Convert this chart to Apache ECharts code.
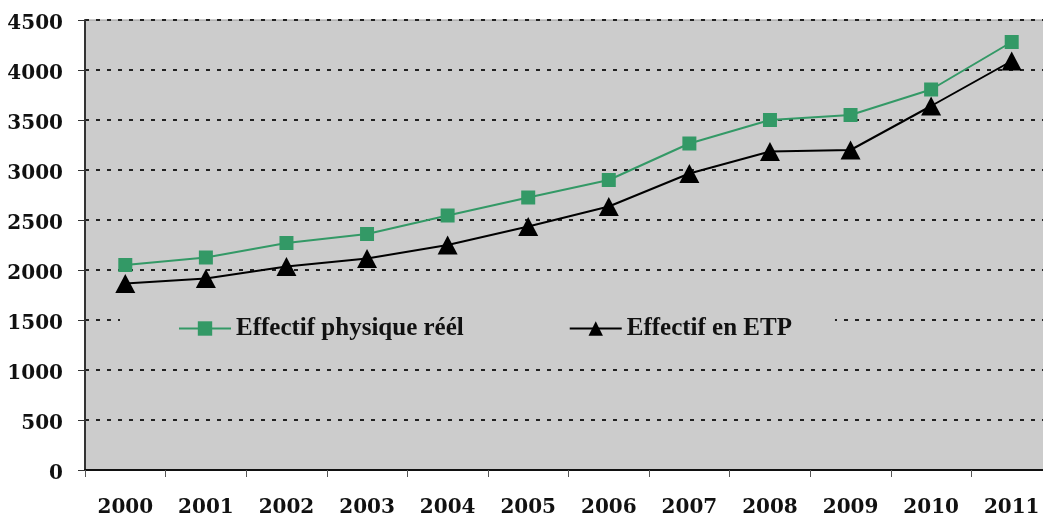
<!DOCTYPE html>
<html>
<head>
<meta charset="utf-8">
<script src="https://cdn.jsdelivr.net/npm/echarts@6/dist/echarts.min.js"></script>
<style>
  html, body { margin: 0; padding: 0; background: #ffffff; overflow: hidden; }
  #chart { width: 1043px; height: 516px; }
</style>
</head>
<body>
<div id="chart"></div>
<script>
// Années
const years = ['2000', '2001', '2002', '2003', '2004', '2005', '2006', '2007', '2008', '2009', '2010', '2011'];
// Effectif physique réel
const effectifPhysique = [2050, 2125, 2270, 2360, 2545, 2725, 2900, 3265, 3500, 3550, 3805, 4280];
// Effectif en équivalent temps plein
const effectifETP = [1865, 1915, 2035, 2115, 2250, 2435, 2635, 2965, 3185, 3200, 3640, 4090];
// Graduations de l'axe vertical
const yTicks = { min: 0, max: 4500, interval: 500 };

const seriesNames = ['Effectif physique réél', 'Effectif en ETP'];

const chart = echarts.init(document.getElementById('chart'), null, { renderer: 'canvas' });

const labelFont = { fontFamily: 'DejaVu Serif', fontWeight: 'bold', fontSize: 20, color: '#111' };

chart.setOption({
  animation: false,
  backgroundColor: '#ffffff',
  grid: {
    left: 85, top: 20, width: 967, height: 450,
    outerBoundsMode: 'none',
    containLabel: false,
    show: true, backgroundColor: '#cccccc', borderColor: '#9a9a9a', borderWidth: 1
  },
  legend: {
    left: 120, top: 311,
    backgroundColor: '#cccccc',
    padding: [5, 43, 5, 58],
    itemGap: 105,
    itemWidth: 52, itemHeight: 18,
    textStyle: { fontFamily: 'Liberation Serif', fontWeight: 'bold', fontSize: 25, color: '#111' },
    data: seriesNames
  },
  xAxis: {
    type: 'category',
    data: years,
    boundaryGap: true,
    axisLine: { lineStyle: { color: '#111', width: 2 } },
    axisTick: { show: true, length: 7, lineStyle: { color: '#555', width: 1 } },
    axisLabel: Object.assign({ margin: 28 }, labelFont),
    splitLine: { show: false }
  },
  yAxis: {
    type: 'value',
    min: yTicks.min, max: yTicks.max, interval: yTicks.interval,
    axisLine: { show: true, lineStyle: { color: '#333', width: 2 } },
    axisTick: { show: true, length: 7, lineStyle: { color: '#333', width: 1 } },
    axisLabel: Object.assign({
      margin: 22,
      formatter: (v) => '{v|' + v + '}',
      rich: { v: Object.assign({ padding: [8, 0, 0, 0] }, labelFont) }
    }, labelFont),
    splitLine: { show: true, lineStyle: { color: '#222', width: 2, type: [4, 7] } }
  },
  series: [
    {
      name: seriesNames[0],
      type: 'line',
      data: effectifPhysique,
      symbol: 'rect',
      symbolSize: 14,
      itemStyle: { color: '#339966' },
      lineStyle: { color: '#339966', width: 2 },
      z: 3
    },
    {
      name: seriesNames[1],
      type: 'line',
      data: effectifETP,
      symbol: 'triangle',
      symbolSize: [20, 19],
      itemStyle: { color: '#000000' },
      lineStyle: { color: '#000000', width: 2 },
      z: 2
    }
  ]
});
</script>
</body>
</html>
